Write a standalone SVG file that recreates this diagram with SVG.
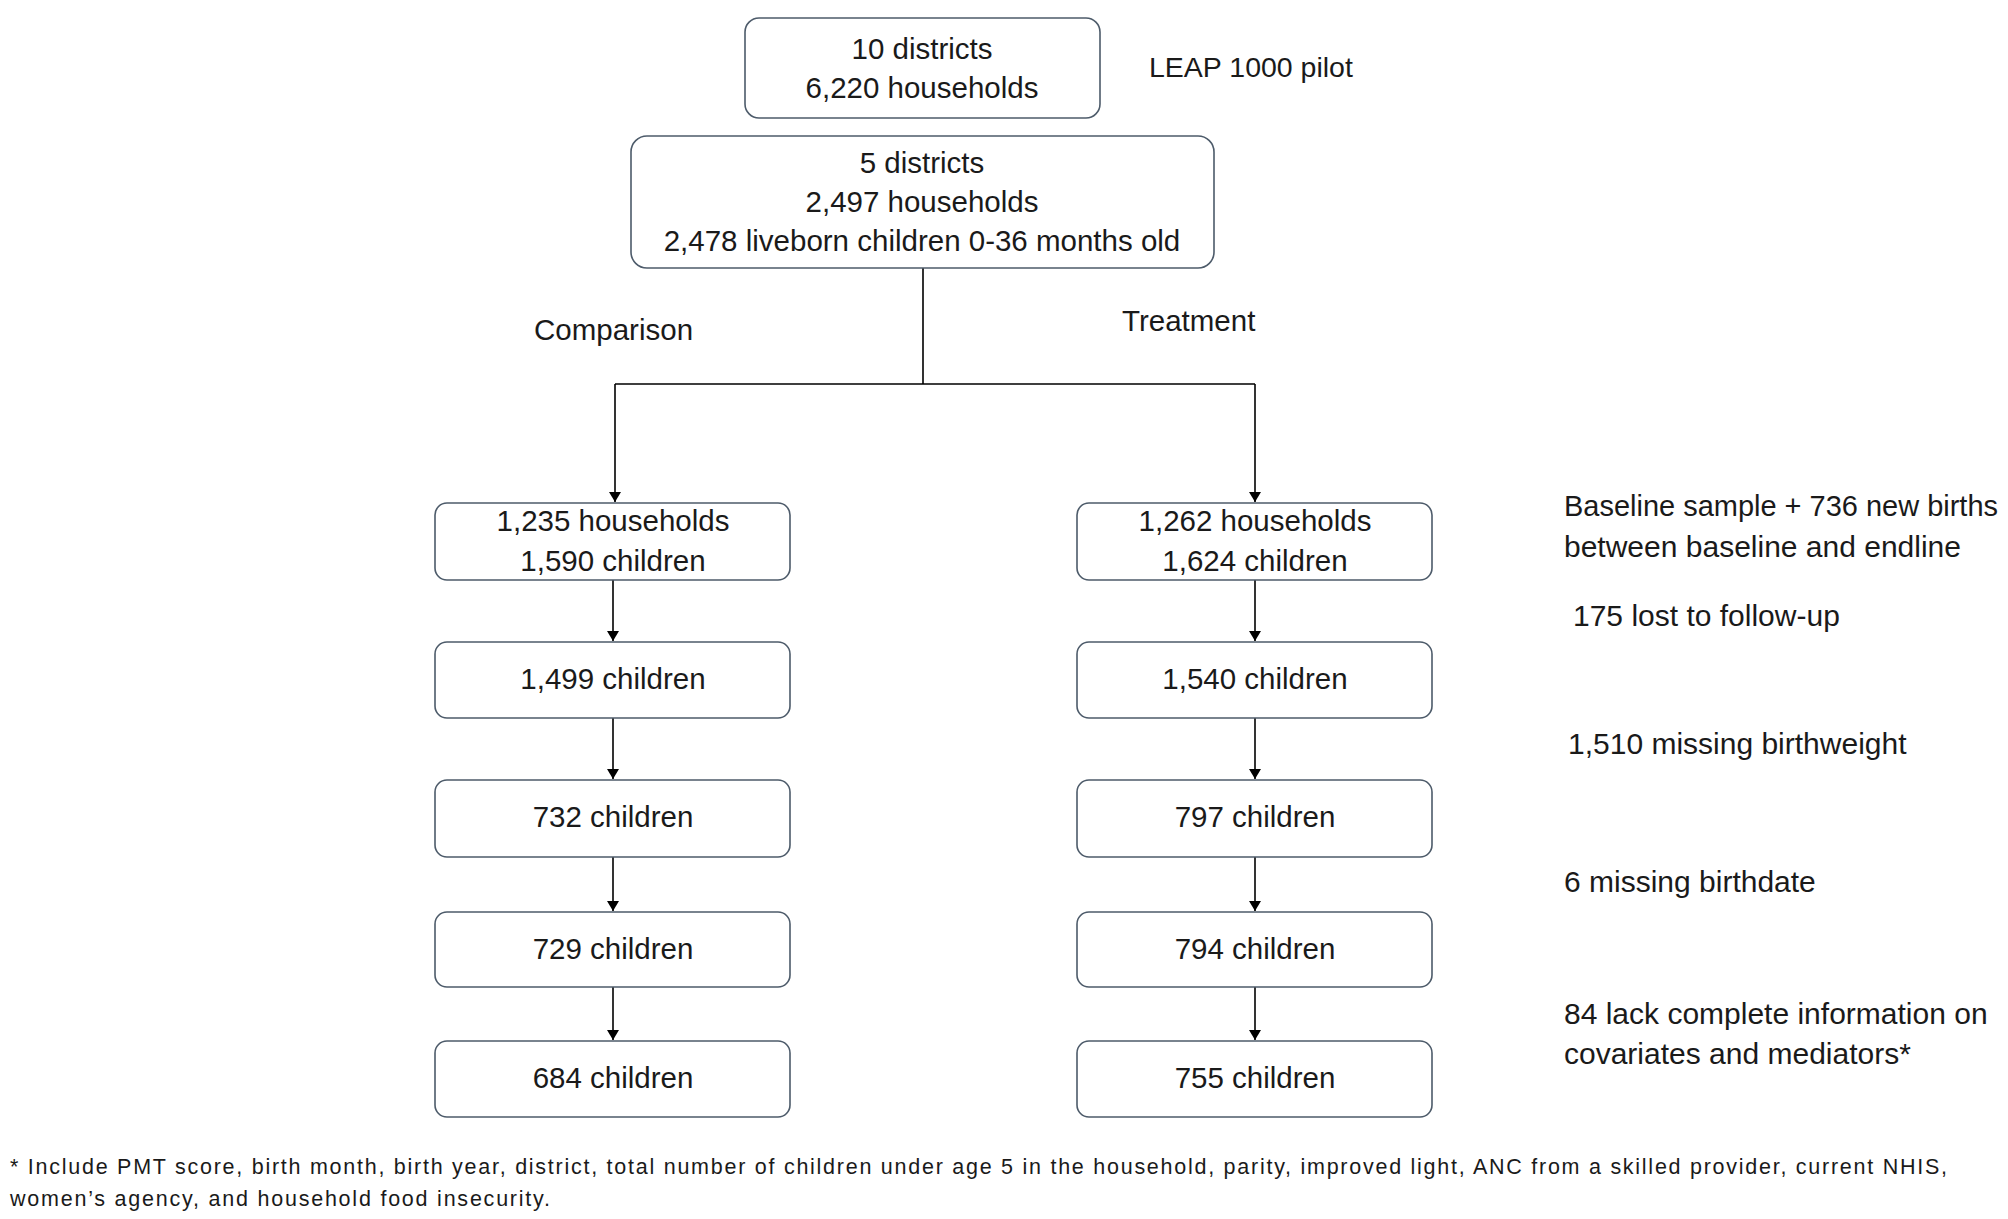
<svg xmlns="http://www.w3.org/2000/svg" width="2008" height="1219" viewBox="0 0 2008 1219">
<style>
.box{fill:#fff;stroke:#4d5b6a;stroke-width:1.6}
.t{font-family:"Liberation Sans",Arial,sans-serif;font-size:29.5px;fill:#1a1a1a;text-anchor:middle;dominant-baseline:central}
.a{font-family:"Liberation Sans",Arial,sans-serif;font-size:30px;fill:#1a1a1a;dominant-baseline:central}
.l{font-family:"Liberation Sans",Arial,sans-serif;font-size:29.5px;fill:#1a1a1a;dominant-baseline:central}
.f{font-family:"Liberation Sans",Arial,sans-serif;font-size:21.5px;fill:#1a1a1a;dominant-baseline:central}
.c{fill:none;stroke:#000;stroke-width:1.6}
</style>
<defs>
<marker id="ah" viewBox="0 0 10 12" refX="10" refY="6" markerWidth="10" markerHeight="12" markerUnits="userSpaceOnUse" orient="auto">
<path d="M0,0 L10,6 L0,12 z" fill="#000"/>
</marker>
</defs>
<rect width="2008" height="1219" fill="#fff"/>
<g id="connectors">
<path class="c" d="M923,268 V384 M615,384 H1255"/>
<path class="c" d="M615,384 V502" marker-end="url(#ah)"/>
<path class="c" d="M1255,384 V502" marker-end="url(#ah)"/>
<path class="c" d="M613,580 V641" marker-end="url(#ah)"/>
<path class="c" d="M613,718 V779" marker-end="url(#ah)"/>
<path class="c" d="M613,857 V911" marker-end="url(#ah)"/>
<path class="c" d="M613,987 V1040" marker-end="url(#ah)"/>
<path class="c" d="M1255,580 V641" marker-end="url(#ah)"/>
<path class="c" d="M1255,718 V779" marker-end="url(#ah)"/>
<path class="c" d="M1255,857 V911" marker-end="url(#ah)"/>
<path class="c" d="M1255,987 V1040" marker-end="url(#ah)"/>
</g>
<g id="n_top">
<rect class="box" x="745" y="18" width="355" height="100" rx="14"/>
<text class="t" x="922" y="48">10 districts</text>
<text class="t" x="922" y="87">6,220 households</text>
</g>
<g id="n_leap"><text class="l" x="1149" y="67" style="font-size:28.5px">LEAP 1000 pilot</text></g>
<g id="n_five">
<rect class="box" x="631" y="136" width="583" height="132" rx="16"/>
<text class="t" x="922" y="162">5 districts</text>
<text class="t" x="922" y="201">2,497 households</text>
<text class="t" x="922" y="240">2,478 liveborn children 0-36 months old</text>
</g>
<g id="n_comparison"><text class="l" x="534" y="329">Comparison</text></g>
<g id="n_treatment"><text class="l" x="1122" y="320">Treatment</text></g>
<g id="n_c1">
<rect class="box" x="435" y="503" width="355" height="77" rx="12"/>
<text class="t" x="613" y="520">1,235 households</text>
<text class="t" x="613" y="560">1,590 children</text>
</g>
<g id="n_c2"><rect class="box" x="435" y="642" width="355" height="76" rx="12"/><text class="t" x="613" y="678">1,499 children</text></g>
<g id="n_c3"><rect class="box" x="435" y="780" width="355" height="77" rx="12"/><text class="t" x="613" y="816">732 children</text></g>
<g id="n_c4"><rect class="box" x="435" y="912" width="355" height="75" rx="12"/><text class="t" x="613" y="948">729 children</text></g>
<g id="n_c5"><rect class="box" x="435" y="1041" width="355" height="76" rx="12"/><text class="t" x="613" y="1077">684 children</text></g>
<g id="n_t1">
<rect class="box" x="1077" y="503" width="355" height="77" rx="12"/>
<text class="t" x="1255" y="520">1,262 households</text>
<text class="t" x="1255" y="560">1,624 children</text>
</g>
<g id="n_t2"><rect class="box" x="1077" y="642" width="355" height="76" rx="12"/><text class="t" x="1255" y="678">1,540 children</text></g>
<g id="n_t3"><rect class="box" x="1077" y="780" width="355" height="77" rx="12"/><text class="t" x="1255" y="816">797 children</text></g>
<g id="n_t4"><rect class="box" x="1077" y="912" width="355" height="75" rx="12"/><text class="t" x="1255" y="948">794 children</text></g>
<g id="n_t5"><rect class="box" x="1077" y="1041" width="355" height="76" rx="12"/><text class="t" x="1255" y="1077">755 children</text></g>
<g id="annotations">
<text class="a" x="1564" y="506" style="font-size:29px" textLength="434" lengthAdjust="spacingAndGlyphs">Baseline sample + 736 new births</text>
<text class="a" x="1564" y="546">between baseline and endline</text>
<text class="a" x="1573" y="615">175 lost to follow-up</text>
<text class="a" x="1568" y="743">1,510 missing birthweight</text>
<text class="a" x="1564" y="881">6 missing birthdate</text>
<text class="a" x="1564" y="1013">84 lack complete information on</text>
<text class="a" x="1564" y="1053">covariates and mediators*</text>
</g>
<g id="footnote">
<text class="f" x="10" y="1167" textLength="1937" lengthAdjust="spacing">* Include PMT score, birth month, birth year, district, total number of children under age 5 in the household, parity, improved light, ANC from a skilled provider, current NHIS,</text>
<text class="f" x="10" y="1199" textLength="540" lengthAdjust="spacing">women’s agency, and household food insecurity.</text>
</g>
</svg>
